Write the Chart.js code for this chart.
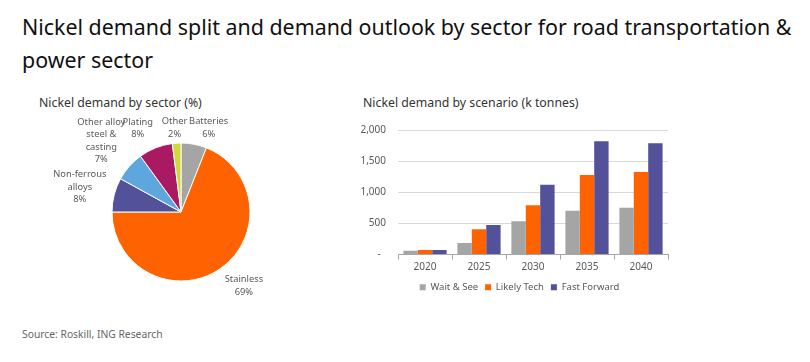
<!DOCTYPE html>
<html><head><meta charset="utf-8">
<script src="https://cdn.jsdelivr.net/npm/chart.js@4.4.0/dist/chart.umd.min.js"></script>
<style>
body{margin:0;width:810px;height:362px;background:#fff;position:relative;overflow:hidden;font-family:"Noto Sans",sans-serif}
.t{position:absolute;white-space:nowrap}
#title{left:22px;top:10px;font-size:21.4px;line-height:33px;color:#111}
.sub{font-size:12.3px;color:#333;line-height:16px}
#sub1{left:39px;top:95px}
#sub2{left:363px;top:95px}
#src{left:22px;top:327px;font-size:10.3px;color:#666;line-height:14px}
#pieWrap{position:absolute;left:0;top:100px;width:362px;height:224px}
#barWrap{position:absolute;left:340px;top:112px;width:359px;height:190px}
</style></head>
<body>
<div id="title" class="t">Nickel demand split and demand outlook by sector for road transportation &amp;<br>power sector</div>
<div id="sub1" class="t sub">Nickel demand by sector (%)</div>
<div id="sub2" class="t sub">Nickel demand by scenario (k tonnes)</div>
<div id="src" class="t">Source: Roskill, ING Research</div>
<div id="pieWrap"><canvas id="pie"></canvas></div>
<div id="barWrap"><canvas id="bar"></canvas></div>
<script>
// ---- Pie data ----
const sectorNames = [["Batteries"], ["Stainless"], ["Non-ferrous", "alloys"], ["Other alloy", "steel &", "casting"], ["Plating"], ["Other"]];
const sectorShares = [6, 69, 8, 7, 8, 2];
const sectorColors = ["#a5a5a5", "#ff6200", "#525199", "#5ea6de", "#aa1a63", "#d0d93c"];

// ---- Bar data ----
const years = ["2020", "2025", "2030", "2035", "2040"];
const waitSee = [60, 186, 535, 703, 752];
const likelyTech = [71, 406, 792, 1276, 1325];
const fastForward = [71, 472, 1122, 1820, 1787];
const seriesNames = ["Wait & See", "Likely Tech", "Fast Forward"];
const seriesColors = ["#a5a5a5", "#ff6200", "#525199"];

const FONT = '"Noto Sans", sans-serif';

const pieLabels = {
  id: 'pieLabels',
  afterDatasetsDraw(chart, args, opts) {
    const ctx = chart.ctx;
    const meta = chart.getDatasetMeta(0);
    const data = chart.data.datasets[0].data;
    ctx.save();
    ctx.font = '9.3px ' + FONT;
    ctx.fillStyle = '#595959';
    ctx.textAlign = 'center';
    ctx.textBaseline = 'middle';
    const lh = 12.5;
    meta.data.forEach((arc, i) => {
      const p = arc.getProps(['x', 'y', 'startAngle', 'endAngle', 'outerRadius'], true);
      const mid = (p.startAngle + p.endAngle) / 2;
      const dx = Math.cos(mid), dy = Math.sin(mid);
      const lines = sectorNames[i].concat([data[i] + '%']);
      const w = Math.max(...lines.map(l => ctx.measureText(l).width));
      const h = lines.length * lh;
      const R = p.outerRadius + opts.gap + Math.abs(dx) * w / 2 + Math.abs(dy) * h / 2;
      const nud = opts.nudge[i] || [0, 0];
      const cx = p.x + dx * R + nud[0];
      const cy = p.y + dy * R + nud[1];
      lines.forEach((l, k) => {
        ctx.fillText(l, cx, cy - h / 2 + lh / 2 + k * lh);
      });
    });
    ctx.restore();
  }
};

new Chart(document.getElementById('pie'), {
  type: 'pie',
  data: {
    labels: sectorNames.map(n => n.join(' ')),
    datasets: [{
      data: sectorShares,
      backgroundColor: sectorColors,
      borderColor: '#ffffff',
      borderWidth: 1,
      hoverOffset: 0,
      offset: 0
    }]
  },
  options: {
    responsive: true,
    maintainAspectRatio: false,
    animation: false,
    radius: 69,
    layout: { padding: 0 },
    plugins: {
      legend: { display: false },
      tooltip: { enabled: false },
      pieLabels: { gap: 4, nudge: [[11, 3], [10, -4], [-1, 1], [1, 0], [-10, 0], [-1, 2]] }
    }
  },
  plugins: [pieLabels]
});

new Chart(document.getElementById('bar'), {
  type: 'bar',
  data: {
    labels: years,
    datasets: [
      { label: seriesNames[0], data: waitSee, backgroundColor: seriesColors[0] },
      { label: seriesNames[1], data: likelyTech, backgroundColor: seriesColors[1] },
      { label: seriesNames[2], data: fastForward, backgroundColor: seriesColors[2] }
    ]
  },
  options: {
    responsive: true,
    maintainAspectRatio: false,
    animation: false,
    layout: { padding: { top: 3, right: 0, left: 0, bottom: 0 } },
    datasets: { bar: { barPercentage: 1, categoryPercentage: 0.8 } },
    scales: {
      x: {
        grid: { display: true, drawOnChartArea: false, drawTicks: true, tickLength: 5, color: '#a6a6a6', offset: true },
        border: { display: true, color: '#a6a6a6', width: 1 },
        ticks: { color: '#595959', font: { size: 10, family: FONT }, padding: 2 }
      },
      y: {
        min: 0, max: 2000,
        afterFit(s) { s.width = 58; },
        grid: { color: '#d9d9d9', drawTicks: false },
        border: { display: false },
        ticks: {
          stepSize: 500,
          padding: 12,
          color: '#595959',
          font: { size: 10, family: FONT },
          callback: v => v === 0 ? '-  ' : v.toLocaleString('en-US')
        }
      },
      yR: {
        position: 'right',
        display: true,
        afterFit(s) { s.width = 31; },
        grid: { display: false, drawTicks: false },
        border: { display: false },
        ticks: { display: false }
      }
    },
    plugins: {
      legend: {
        position: 'bottom',
        labels: { boxWidth: 6, boxHeight: 6, padding: 7, color: '#595959', font: { size: 9.5, family: FONT } }
      },
      tooltip: { enabled: false }
    }
  }
});
</script>
</body></html>
